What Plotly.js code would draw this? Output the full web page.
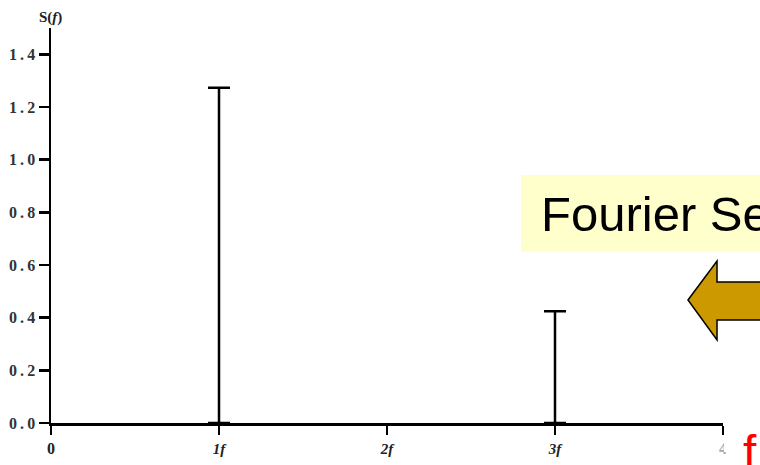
<!DOCTYPE html>
<html>
<head>
<meta charset="utf-8">
<script src="https://cdn.plot.ly/plotly-3.0.1.min.js"></script>
<style>
html,body{margin:0;padding:0;background:#fff;}
#chart{width:760px;height:465px;}
</style>
</head>
<body>
<div id="chart"></div>
<script>
// Data
var harmonics = [1, 3];
var amplitudes = [1.273, 0.424];
var xTickVals = [0, 1, 2, 3, 4];
var xTickText = ['0', '1f', '2f', '3f', '4'];
var yTickVals = [0, 0.2, 0.4, 0.6, 0.8, 1.0, 1.2, 1.4];
var yTickText = ['0.0', '0.2', '0.4', '0.6', '0.8', '1.0', '1.2', '1.4'];

var W = 760, H = 465;
var L = 51, R = 37, T = 28, B = 42;
var pw = W - L - R, ph = H - T - B;
function px(x) { return (x - L) / pw; }
function py(y) { return (H - B - y) / ph; }

var xText = xTickText.map(function (t) {
  if (t.indexOf('f') >= 0) {
    return '<span style="font-size:15px"><i>' + t + '</i></span>';
  }
  if (t === '4') return '<span style="color:#aaaaaa">4</span>';
  return t;
});
var yText = yTickText.map(function (t) { return t.split('').join('\u2009'); });

var trace = {
  x: harmonics,
  y: amplitudes,
  type: 'scatter',
  mode: 'markers',
  marker: {size: 1, color: 'rgba(0,0,0,0)'},
  error_y: {
    type: 'data',
    symmetric: false,
    array: amplitudes.map(function () { return 0; }),
    arrayminus: amplitudes,
    width: 11,
    thickness: 2.5,
    color: '#000'
  },
  hoverinfo: 'skip',
  showlegend: false,
  cliponaxis: true
};

// arrow path in paper coords
function P(x, y) { return px(x).toFixed(4) + ',' + py(y).toFixed(4); }
var arrowPath = 'M' + P(688, 300) + ' L' + P(717, 261) + ' L' + P(717, 282) +
  ' L' + P(775, 282) + ' L' + P(775, 320) + ' L' + P(717, 320) + ' L' + P(717, 340) + ' Z';

var layout = {
  width: W, height: H,
  margin: {l: L, r: R, t: T, b: B, pad: 0},
  paper_bgcolor: '#fff',
  plot_bgcolor: '#fff',
  font: {family: 'Liberation Serif, Times New Roman, serif', color: '#222'},
  xaxis: {
    range: [0, 4],
    showgrid: false, zeroline: false,
    showline: true, linecolor: '#000', linewidth: 2.5,
    ticks: 'outside', ticklen: 9, tickwidth: 2.5, tickcolor: '#000',
    tickvals: xTickVals, ticktext: xText,
    tickfont: {family: 'Liberation Serif, serif', size: 16, weight: 'bold', color: '#222'}
  },
  yaxis: {
    range: [0, 1.5],
    showgrid: false, zeroline: false,
    showline: true, linecolor: '#000', linewidth: 2.5,
    ticks: 'outside', ticklen: 10, tickwidth: 2.5, tickcolor: '#000',
    tickvals: yTickVals, ticktext: yText,
    tickfont: {family: 'Liberation Serif, serif', size: 16, weight: 'bold', color: '#333'}
  },
  shapes: [
    {type: 'rect', xref: 'paper', yref: 'paper', x0: px(521), x1: px(780), y0: py(252), y1: py(175),
     fillcolor: '#FFFFCC', line: {width: 0}, layer: 'above'},
    {type: 'path', xref: 'paper', yref: 'paper', path: arrowPath,
     fillcolor: '#CC9900', line: {color: '#000', width: 1.5}, layer: 'above'},
    {type: 'rect', xref: 'paper', yref: 'paper', x0: px(724), x1: px(740), y0: py(452), y1: py(430),
     fillcolor: '#fff', line: {width: 0}, layer: 'above'}
  ],
  annotations: [
    {xref: 'paper', yref: 'paper', x: px(539), y: py(214), xanchor: 'left', yanchor: 'middle',
     text: 'Fourier Series', showarrow: false,
     font: {family: 'Liberation Sans, Arial, sans-serif', size: 49, color: '#000'}},
    {xref: 'paper', yref: 'paper', x: px(50), y: py(17), xanchor: 'center', yanchor: 'middle',
     text: 'S(<i>f</i>)', showarrow: false,
     font: {family: 'Liberation Serif, serif', size: 15, weight: 'bold', color: '#222'}},
    {xref: 'paper', yref: 'paper', x: px(750), y: py(424), xanchor: 'center', yanchor: 'top',
     text: 'f', showarrow: false,
     font: {family: 'Liberation Sans, Arial, sans-serif', size: 48, color: '#ff0000'}}
  ]
};

Plotly.newPlot('chart', [trace], layout, {displayModeBar: false, staticPlot: true});
</script>
</body>
</html>
